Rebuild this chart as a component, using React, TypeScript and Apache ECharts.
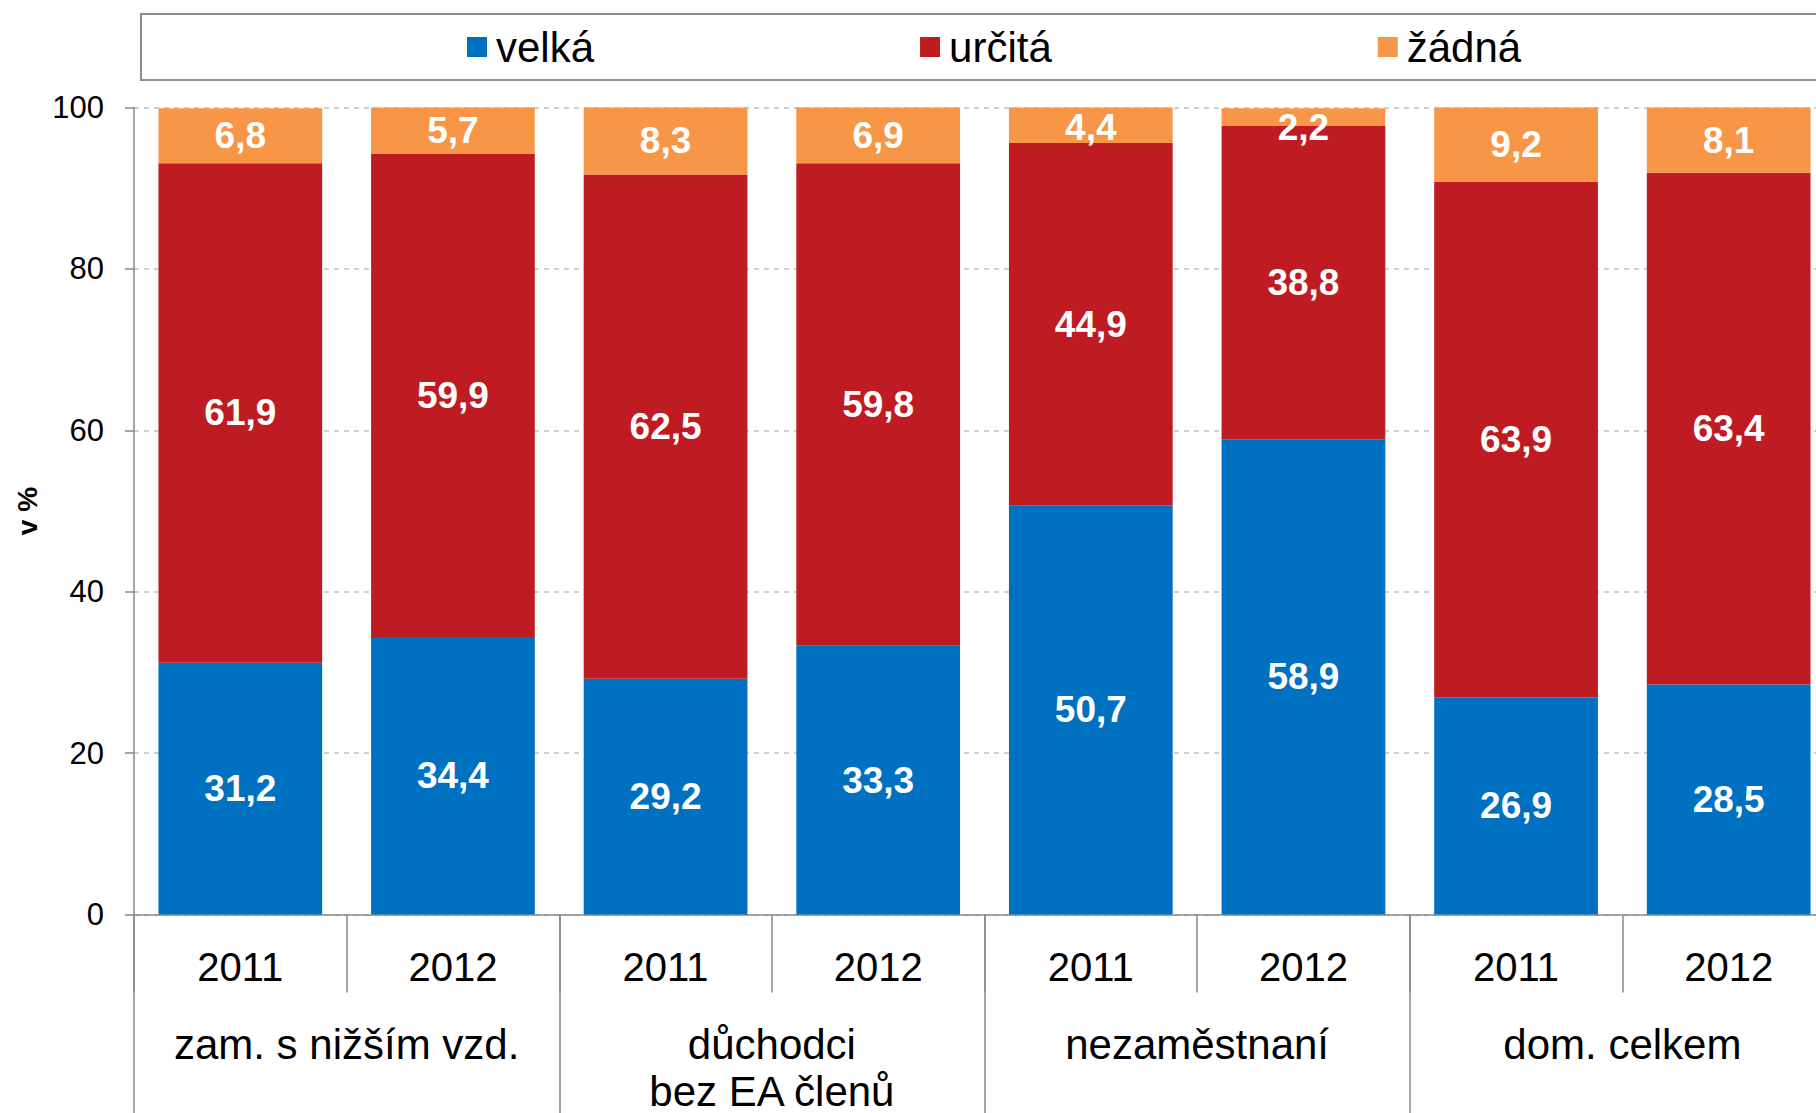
import React, { useEffect, useRef } from "react";
import * as echarts from "echarts";

const years = ["2011", "2012", "2011", "2012", "2011", "2012", "2011", "2012"];
const groups = ["zam. s nižším vzd.", "důchodci\nbez EA členů", "nezaměstnaní", "dom. celkem"];
const seriesNames = ["velká", "určitá", "žádná"];
const velka = [31.2, 34.4, 29.2, 33.3, 50.7, 58.9, 26.9, 28.5];
const urcita = [61.9, 59.9, 62.5, 59.8, 44.9, 38.8, 63.9, 63.4];
const zadna = [6.8, 5.7, 8.3, 6.9, 4.4, 2.2, 9.2, 8.1];
const colors = ["#0070C0", "#BE1B22", "#F79646"];

const FONT = '"Liberation Sans", Arial, sans-serif';
const GRID_TOP = 107.5;
const GRID_LEFT = 134;
const W = 1816;
const H = 1113;

export default function App() {
  const ref = useRef<HTMLDivElement>(null);
  useEffect(() => {
    if (!ref.current) return;
    const chart = echarts.init(ref.current, null, { renderer: "svg" });
    const axisGray = "#898989";
    const mkSeries = (name: string, data: number[], color: string) => ({
      name,
      type: "bar",
      stack: "total",
      data,
      barCategoryGap: "23%",
      itemStyle: { color },
      label: {
        show: true,
        position: "inside",
        color: "#fff",
        fontWeight: "bold",
        fontSize: 37,
        fontFamily: FONT,
        formatter: (p: any) => String(p.value).replace(".", ","),
      },
      labelLayout: (params: any) => {
        const r = params.labelRect;
        const minTop = GRID_TOP + 1;
        if (r && r.y < minTop) return { dy: minTop - r.y };
        return {};
      },
    });
    chart.setOption({
      animation: false,
      textStyle: { fontFamily: FONT },
      graphic: [
        {
          type: "rect",
          z: 0,
          shape: { x: 141, y: 14, width: 1800, height: 66 },
          style: { fill: "#fff", stroke: "#8c8c8c", lineWidth: 2 },
        },
      ],
      legend: {
        data: seriesNames,
        left: 467,
        top: 26,
        padding: 0,
        itemWidth: 20,
        itemHeight: 20,
        itemGap: 326,
        icon: "rect",
        textStyle: {
          fontSize: 42,
          color: "#000",
          fontFamily: FONT,
          lineHeight: 42,
          padding: [0, 0, 0, 4],
        },
        z: 10,
      },
      grid: {
        left: GRID_LEFT,
        top: GRID_TOP,
        height: 807,
        width: 1701,
        containLabel: false,
        outerBoundsMode: "none",
      },
      xAxis: [
        {
          type: "category",
          data: years,
          position: "bottom",
          axisLine: { show: true, lineStyle: { color: axisGray, width: 1.5 } },
          axisTick: { show: true, interval: 0, length: 78, lineStyle: { color: axisGray, width: 1.5 } },
          axisLabel: { interval: 0, fontSize: 40, color: "#000", margin: 32, lineHeight: 40, fontFamily: FONT },
        },
        {
          type: "category",
          data: groups,
          position: "bottom",
          axisLine: { show: false },
          axisTick: { show: true, interval: 0, length: 200, lineStyle: { color: axisGray, width: 1.5 } },
          axisLabel: { interval: 0, fontSize: 42, color: "#000", margin: 106, lineHeight: 47, fontFamily: FONT },
        },
      ],
      yAxis: {
        type: "value",
        min: 0,
        max: 100,
        interval: 20,
        name: "v %",
        nameLocation: "middle",
        nameGap: 91,
        nameTextStyle: { fontSize: 28, fontWeight: "bold", color: "#000", fontFamily: FONT },
        axisLine: { show: true, lineStyle: { color: axisGray, width: 1.5 } },
        axisTick: { show: true, length: 9, lineStyle: { color: axisGray, width: 1.5 } },
        axisLabel: { fontSize: 31, color: "#000", margin: 30, fontFamily: FONT },
        splitLine: { show: true, lineStyle: { color: "#c0c0c0", type: [5, 5], width: 1.5 } },
      },
      series: [
        mkSeries(seriesNames[0], velka, colors[0]),
        mkSeries(seriesNames[1], urcita, colors[1]),
        mkSeries(seriesNames[2], zadna, colors[2]),
      ],
    });
    return () => chart.dispose();
  }, []);
  return (
    <div
      ref={ref}
      style={{ position: "fixed", left: 0, top: 0, width: W, height: H, background: "#fff" }}
    />
  );
}
